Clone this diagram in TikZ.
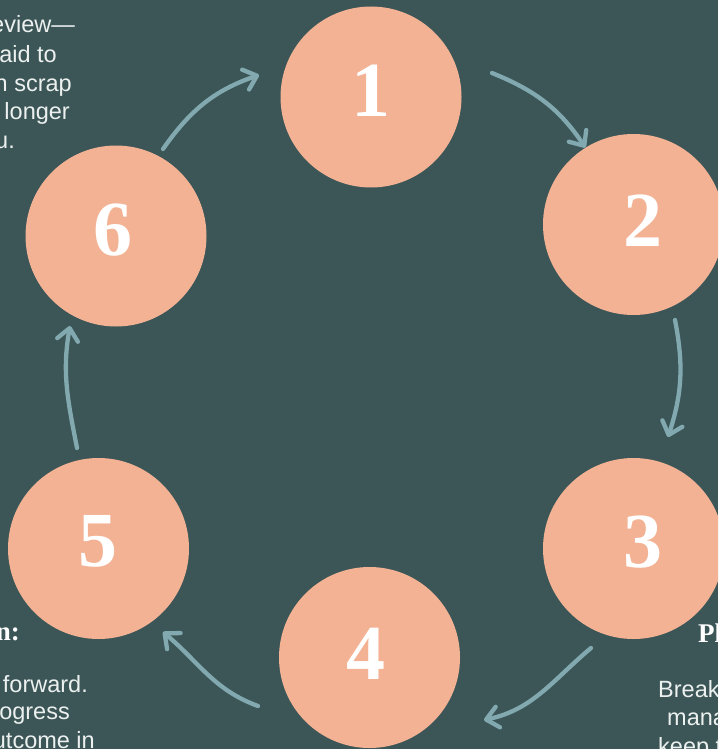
\documentclass[tikz,border=0pt]{standalone}
\usepackage{fontspec}
\setmainfont{Liberation Serif}
\newfontfamily\bodyfont{Liberation Sans}
\usetikzlibrary{arrows.meta}
\definecolor{bg}{HTML}{3C5657}
\definecolor{disc}{HTML}{F3B294}
\definecolor{flow}{HTML}{82A9AF}
\definecolor{ink}{HTML}{ECF0EF}

\begin{document}
\begin{tikzpicture}[x=1pt,y=1pt,
  stage/.style={circle, fill=disc, minimum size=181pt, inner sep=0pt},
  numeral/.style={anchor=base, text=white, inner sep=0pt,
    font=\fontsize{78}{78}\selectfont\bfseries},
  cycle/.style={draw=flow, line width=4.3pt, line cap=round,
    -{Straight Barb[length=12pt,width=21pt,round]}},
  bodyR/.style={anchor=base east, text=ink, inner sep=0pt,
    font=\bodyfont\fontsize{23.5}{28}\selectfont},
  bodyL/.style={bodyR, anchor=base west},
  headR/.style={anchor=base east, text=white, inner sep=0pt,
    font=\fontsize{27}{30}\selectfont\bfseries},
  headL/.style={headR, anchor=base west},
]
\useasboundingbox (0,0) rectangle (718,-749);
\fill[bg] (0,0) rectangle (718,-749);
\clip (0,0) rectangle (718,-749);

% the six stages
\node[stage] (s1) at (371,-97) {};
\node[stage] (s2) at (633.5,-224.5) {};
\node[stage] (s3) at (633.5,-548.5) {};
\node[stage] (s4) at (369.5,-657.5) {};
\node[stage] (s5) at (98.5,-548.5) {};
\node[stage] (s6) at (116,-236) {};

\node[numeral] (n1) at (371,-117) {1};
\node[numeral] (n2) at (642.5,-246) {2};
\node[numeral] (n3) at (642.5,-567) {3};
\node[numeral] (n4) at (366,-679) {4};
\node[numeral] (n5) at (98,-566) {5};
\node[numeral] (n6) at (113,-255) {6};

% curved arrows running clockwise between the stages
\coordinate (a12) at (492,-73);
\coordinate (a23) at (675,-320);
\coordinate (b23) at (668,-437);
\coordinate (a34) at (591,-648);
\coordinate (b34) at (484,-720);
\coordinate (a45) at (258,-706);
\coordinate (b45) at (163,-632);
\coordinate (a56) at (77,-448);
\coordinate (b56) at (70,-326);
\coordinate (a61) at (163,-149);
\coordinate (b61) at (259,-75);

\draw[cycle] (a12) to[out=-22,in=124] (s2.122);
\draw[cycle] (a23) to[out=-79,in=72] (b23);
\draw[cycle] (a34) to[out=-140,in=12] (b34);
\draw[cycle] (a45) to[out=160,in=-40] (b45);
\draw[cycle] (a56) to[out=101,in=-100] (b56);
\draw[cycle] (a61) to[out=55,in=199] (b61);

% text running in from the edges
\node[bodyR] (t1) at (75,-33) {eview—};
\node[bodyR] (t2) at (57,-63) {aid to};
\node[bodyR] (t3) at (72,-92) {n scrap};
\node[bodyR] (t4) at (70,-120) {longer};
\node[bodyR] (t5) at (15,-148) {u.};

\node[headR] (h5) at (20,-640) {n:};
\node[bodyR] (u1) at (88,-692) {forward.};
\node[bodyR] (u2) at (70,-719) {ogress};
\node[bodyR] (u3) at (95,-748) {utcome in};

\node[headL] (h3) at (698,-642) {Pl};
\node[bodyL] (v1) at (658,-697) {Break};
\node[bodyL] (v2) at (667,-725) {mana};
\node[bodyL] (v3) at (658,-754) {keep t};
\end{tikzpicture}
\end{document}
